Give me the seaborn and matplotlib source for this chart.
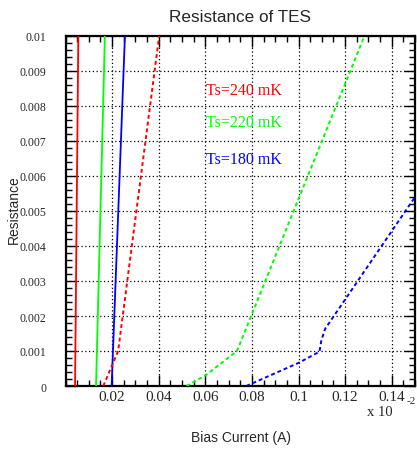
import matplotlib
matplotlib.use("Agg")
import matplotlib.pyplot as plt
from matplotlib.ticker import MultipleLocator, FixedLocator, FixedFormatter
import seaborn as sns
import pandas as pd

# Bias current (x 10^-2 A) and resistance for each bath temperature
red_solid_x = [0.0041, 0.0055]
red_solid_y = [0.0, 0.01]
green_solid_x = [0.0131, 0.0169]
green_solid_y = [0.0, 0.01]
blue_solid_x = [0.0198, 0.0255]
blue_solid_y = [0.0, 0.01]

red_dash_x = [0.0162, 0.0226, 0.0402]
red_dash_y = [0.0, 0.001, 0.01]
green_dash_x = [0.0519, 0.0600, 0.0736, 0.1283]
green_dash_y = [0.0, 0.0003, 0.001, 0.01]
blue_dash_x = [0.0776, 0.1000, 0.1090, 0.1098, 0.1114, 0.1500]
blue_dash_y = [0.0, 0.00066, 0.00098, 0.0013, 0.00163, 0.0054]

labels = ["Ts=240 mK", "Ts=220 mK", "Ts=180 mK"]
label_y = [0.00847, 0.00753, 0.00649]
colors = ["#ff0000", "#00ff00", "#0000ff"]

x_ticks = [0.02, 0.04, 0.06, 0.08, 0.10, 0.12, 0.14]
x_tick_labels = ["0.02", "0.04", "0.06", "0.08", "0.1", "0.12", "0.14"]
y_ticks = [0.000, 0.001, 0.002, 0.003, 0.004, 0.005, 0.006, 0.007, 0.008, 0.009, 0.010]
y_tick_labels = ["0", "0.001", "0.002", "0.003", "0.004", "0.005", "0.006",
                 "0.007", "0.008", "0.009", "0.01"]

sns.set_style("white")
plt.rcParams["font.family"] = ["Liberation Serif", "DejaVu Serif"]

fig = plt.figure(figsize=(4.17, 4.52), dpi=100)
W, H = 417, 452
L, R, T, B = 65.5, 415, 37, 387
ax = fig.add_axes([L / W, 1 - B / H, (R - L) / W, (B - T) / H])

solid = [(red_solid_x, red_solid_y), (green_solid_x, green_solid_y), (blue_solid_x, blue_solid_y)]
dashed = [(red_dash_x, red_dash_y), (green_dash_x, green_dash_y), (blue_dash_x, blue_dash_y)]

for (xs, ys), c in zip(solid, colors):
    df = pd.DataFrame({"I": xs, "R": ys})
    sns.lineplot(data=df, x="I", y="R", sort=False, estimator=None, color=c,
                 linewidth=1.3, ax=ax, zorder=3)
for (xs, ys), c in zip(dashed, colors):
    df = pd.DataFrame({"I": xs, "R": ys})
    sns.lineplot(data=df, x="I", y="R", sort=False, estimator=None, color=c,
                 linewidth=1.4, linestyle=(0, (2.0, 1.5)), ax=ax, zorder=3)

ax.set_xlim(0, 0.15)
ax.set_ylim(0, 0.01)
ax.set_xlabel("")
ax.set_ylabel("")

ax.xaxis.set_major_locator(FixedLocator(x_ticks))
ax.xaxis.set_major_formatter(FixedFormatter(x_tick_labels))
ax.xaxis.set_minor_locator(MultipleLocator(0.005))
ax.yaxis.set_major_locator(FixedLocator(y_ticks))
ax.yaxis.set_major_formatter(FixedFormatter(y_tick_labels))
ax.yaxis.set_minor_locator(MultipleLocator(0.0002))

ax.tick_params(which="both", direction="in", top=True, right=True,
               bottom=True, left=True, color="black", width=1.0)
ax.tick_params(which="major", length=8)
ax.tick_params(which="minor", length=4.5)
ax.tick_params(axis="x", which="major", labelsize=11, pad=3)
ax.tick_params(axis="y", which="major", labelsize=8.5, pad=14)

ax.grid(True, which="major", color="black", linestyle=(0, (1, 2)), linewidth=0.9)
for s in ax.spines.values():
    s.set_color("black")
    s.set_linewidth(1.6)
    s.set_visible(True)

for txt, yv, c in zip(labels, label_y, colors):
    ax.text(0.0602, yv, txt, color=c, fontsize=11.5, ha="left", va="center", zorder=4)

ax.text(0.8627, -0.0729, "x 10", transform=ax.transAxes, fontsize=10.5,
        ha="left", va="center")
ax.text(0.977, -0.0414, "-2", transform=ax.transAxes, fontsize=8,
        ha="left", va="center")

sans = ["Liberation Sans", "DejaVu Sans"]
fig.text(240 / W, 1 - 18 / H, "Resistance of TES", family=sans, fontsize=12.3,
         ha="center", va="center")
fig.text(241 / W, 1 - 438 / H, "Bias Current (A)", family=sans, fontsize=10,
         ha="center", va="center")
fig.text(14 / W, 1 - 210 / H, "Resistance", family=sans, fontsize=10,
         rotation=90, ha="center", va="center")

fig.savefig("out.png", dpi=100)
